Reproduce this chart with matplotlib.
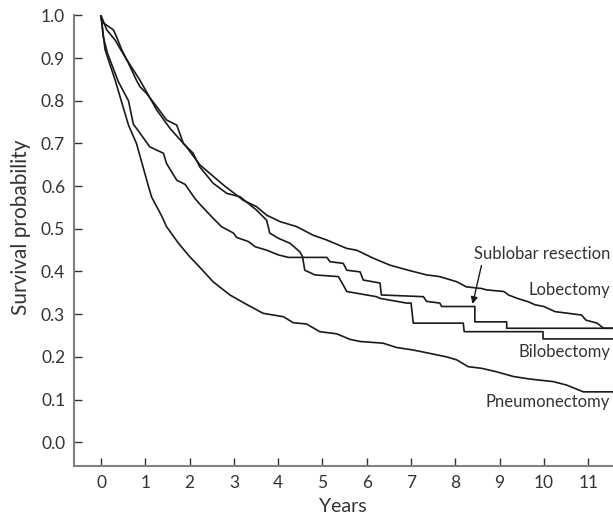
import matplotlib.pyplot as plt

# values (years, survival probability)
lob_years = [0, 0.13, 0.32, 0.54, 0.88, 1.26, 1.56, 1.93, 2.23, 2.5, 2.76, 3.21, 3.51,
             3.74, 4.04, 4.42, 4.79, 5.09, 5.55, 5.77, 6.15, 6.52, 6.9, 7.35, 7.65,
             8.03, 8.25, 8.6, 8.7, 9.1, 9.2, 9.4, 9.65, 9.8, 10.0, 10.25, 10.55,
             10.85, 10.95, 11.2, 11.35, 11.6]
lob_surv = [1.0, 0.966, 0.942, 0.903, 0.848, 0.778, 0.735, 0.692, 0.65, 0.626, 0.603,
            0.567, 0.552, 0.532, 0.517, 0.505, 0.485, 0.474, 0.454, 0.45, 0.431, 0.415,
            0.404, 0.392, 0.388, 0.376, 0.364, 0.36, 0.357, 0.353, 0.345, 0.337, 0.329,
            0.322, 0.318, 0.306, 0.302, 0.298, 0.286, 0.279, 0.267, 0.267]

sub_years = [0, 0.05, 0.15, 0.39, 0.62, 0.73, 0.84, 1.1, 1.41, 1.48, 1.71, 1.9, 2.12,
             2.23, 2.5, 2.72, 2.99, 3.06, 3.33, 3.48, 3.74, 4.0, 4.23, 5.1, 5.17, 5.47,
             5.55, 5.85, 5.92, 6.3, 6.33, 7.28, 7.35, 7.65, 7.69, 8.44, 8.44, 9.16,
             9.16, 11.6]
sub_surv = [1.0, 0.95, 0.91, 0.845, 0.80, 0.745, 0.73, 0.692, 0.677, 0.653, 0.614,
            0.604, 0.571, 0.558, 0.528, 0.505, 0.49, 0.48, 0.47, 0.458, 0.45, 0.439,
            0.433, 0.433, 0.423, 0.419, 0.403, 0.399, 0.38, 0.373, 0.345, 0.341, 0.33,
            0.326, 0.318, 0.318, 0.282, 0.282, 0.267, 0.267]

bilo_years = [0, 0.02, 0.28, 0.35, 0.47, 0.62, 0.8, 0.88, 1.03, 1.26, 1.48, 1.71, 1.86,
              2.08, 2.23, 2.53, 2.84, 3.14, 3.51, 3.74, 3.81, 4.0, 4.27, 4.49, 4.55,
              4.6, 4.83, 5.36, 5.47, 5.55, 6.22, 6.3, 6.9, 7.0, 7.05, 8.18, 8.2, 9.98,
              9.98, 11.6]
bilo_surv = [1.0, 0.985, 0.966, 0.95, 0.919, 0.888, 0.848, 0.833, 0.817, 0.786, 0.755,
             0.743, 0.70, 0.677, 0.645, 0.607, 0.583, 0.575, 0.544, 0.52, 0.49, 0.478,
             0.466, 0.446, 0.435, 0.403, 0.392, 0.388, 0.368, 0.353, 0.341, 0.337,
             0.326, 0.326, 0.279, 0.279, 0.259, 0.259, 0.242, 0.242]

pneu_years = [0, 0.09, 0.32, 0.62, 0.8, 1.07, 1.14, 1.37, 1.48, 1.75, 2.0, 2.23, 2.53,
              2.91, 3.25, 3.66, 4.12, 4.34, 4.64, 4.94, 5.32, 5.62, 5.85, 6.37, 6.67,
              7.05, 7.43, 7.8, 8.03, 8.29, 8.6, 8.93, 9.31, 9.68, 10.21, 10.51, 10.89,
              11.6]
pneu_surv = [1.0, 0.92, 0.848, 0.743, 0.70, 0.60, 0.575, 0.53, 0.505, 0.466, 0.435,
             0.41, 0.376, 0.345, 0.325, 0.302, 0.294, 0.28, 0.277, 0.259, 0.254, 0.241,
             0.236, 0.232, 0.222, 0.216, 0.208, 0.20, 0.193, 0.177, 0.173, 0.165, 0.154,
             0.148, 0.142, 0.134, 0.118, 0.118]

x_ticks = list(range(0, 12))
y_ticks = [0.0, 0.1, 0.2, 0.3, 0.4, 0.5, 0.6, 0.7, 0.8, 0.9, 1.0]

plt.rcParams['font.family'] = ['Lato', 'DejaVu Sans']

fig = plt.figure(figsize=(6.13, 5.14), dpi=100)
ax = fig.add_axes([0.12, 0.094, 0.88, 0.876])

line_kw = dict(color="#1a1a1a", linewidth=1.2)
ax.plot(lob_years, lob_surv, **line_kw)
ax.plot(sub_years, sub_surv, **line_kw)
ax.plot(bilo_years, bilo_surv, **line_kw)
ax.plot(pneu_years, pneu_surv, **line_kw)

ax.set_xlim(-0.62, 11.56)
ax.set_ylim(-0.055, 1.0)
ax.set_xticks(x_ticks)
ax.set_yticks(y_ticks)
ax.set_yticklabels([f"{v:.1f}" for v in y_ticks])

for s in ["top", "right"]:
    ax.spines[s].set_visible(False)
for s in ["left", "bottom"]:
    ax.spines[s].set_color("#808080")
    ax.spines[s].set_linewidth(1.5)

ax.tick_params(direction="in", length=5.5, width=1.0, color="#333333",
               labelsize=12.5, labelcolor="#333333")
ax.tick_params(axis="x", pad=7)
ax.tick_params(axis="y", pad=6)

ax.set_xlabel("Years", fontsize=14, color="#333333", labelpad=5)
ax.set_ylabel("Survival probability", fontsize=15, color="#333333")
ax.yaxis.set_label_coords(-0.078, 0.53)

txt = dict(fontsize=12, color="#333333", ha="right", va="center")
ax.text(11.5, 0.441, "Sublobar resection", **txt)
ax.text(11.5, 0.357, "Lobectomy", **txt)
ax.text(11.5, 0.212, "Bilobectomy", **txt)
ax.text(11.5, 0.094, "Pneumonectomy", **txt)

ax.annotate("", xy=(8.39, 0.324), xytext=(8.59, 0.414),
            arrowprops=dict(arrowstyle="-|>", color="#1a1a1a", lw=1.0,
                            mutation_scale=10, shrinkA=0, shrinkB=0))

fig.savefig("out.png", dpi=100)
